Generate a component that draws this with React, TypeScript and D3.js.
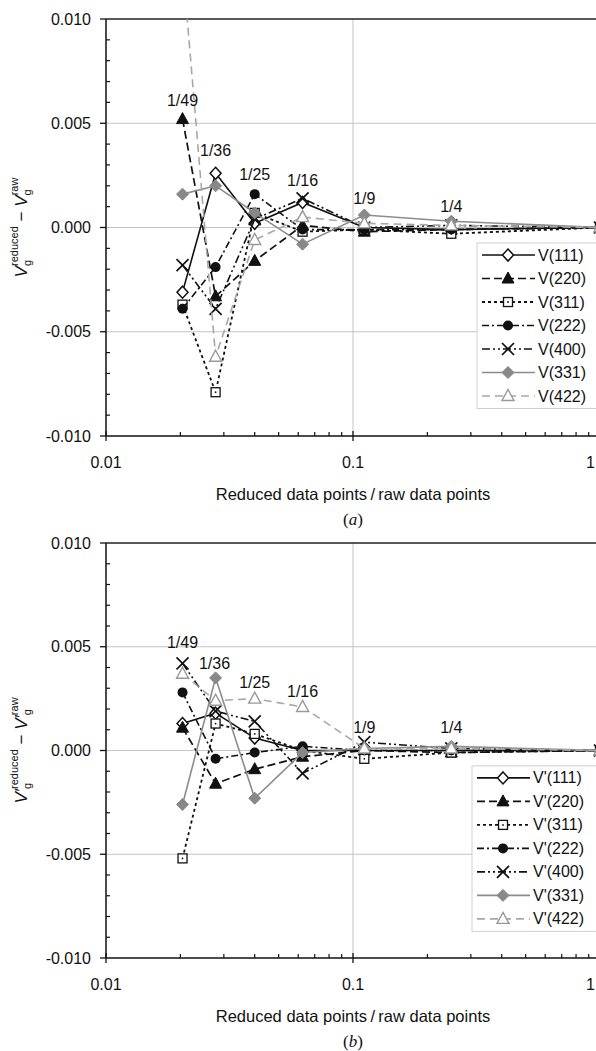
import React from "react";
import * as d3 from "d3";

const xValues = [1 / 49, 1 / 36, 1 / 25, 1 / 16, 1 / 9, 1 / 4, 1];
const xLabels = ["1/49", "1/36", "1/25", "1/16", "1/9", "1/4"];

const seriesNamesA = ["V(111)", "V(220)", "V(311)", "V(222)", "V(400)", "V(331)", "V(422)"];
const seriesNamesB = ["V'(111)", "V'(220)", "V'(311)", "V'(222)", "V'(400)", "V'(331)", "V'(422)"];

const a111 = [-0.0031, 0.0026, 0.0002, 0.0012, 0.0, -0.0001, 0];
const a220 = [0.0052, -0.0033, -0.0016, 0.0001, -0.0002, -0.0001, 0];
const a311 = [-0.0037, -0.0079, 0.0007, -0.0002, -0.0001, -0.0003, 0];
const a222 = [-0.0039, -0.0019, 0.0016, -0.0001, -0.0001, -0.0001, 0];
const a400 = [-0.0018, -0.0039, 0.0004, 0.0014, 0.0, 0.0001, 0];
const a331 = [0.0016, 0.002, 0.0007, -0.0008, 0.0006, 0.0003, 0];
const a422 = [0.0127, -0.0062, -0.0006, 0.0005, 0.0002, 0.0001, 0];

const b111 = [0.0013, 0.0018, 0.0006, 0.0, 0.0, 0.0, 0];
const b220 = [0.0011, -0.0016, -0.0009, -0.0003, 0.0, -0.0001, 0];
const b311 = [-0.0052, 0.0013, 0.0008, 0.0, -0.0004, -0.0001, 0];
const b222 = [0.0028, -0.0004, -0.0001, 0.0002, 0.0, 0.0, 0];
const b400 = [0.0042, 0.0019, 0.0014, -0.0011, 0.0004, 0.0001, 0];
const b331 = [-0.0026, 0.0035, -0.0023, -0.0001, 0.0001, 0.0002, 0];
const b422 = [0.0037, 0.0024, 0.0025, 0.0021, 0.0001, 0.0001, 0];

// annotation label positions (data units) for each panel
const annotYA = [0.0061, 0.0037, 0.00253, 0.00225, 0.00138, 0.001];
const annotXA = [1 / 49, 1 / 36, 1 / 25, 1 / 16, 1 / 9, 1 / 4];
const annotYB = [0.0052, 0.0042, 0.0033, 0.00286, 0.0011, 0.0011];
const annotXB = [1 / 49, 0.0275, 1 / 25, 1 / 16, 1 / 9, 1 / 4];

const yTicks = [0.01, 0.005, 0, -0.005, -0.01];
const xTicks = [0.01, 0.1, 1];
const xTickLabels = ["0.01", "0.1", "1"];

type Style = { dash: string; color: string; marker: string; width: number };
const styles: Style[] = [
  { dash: "", color: "#111", marker: "diamondOpen", width: 1.6 },
  { dash: "8,4", color: "#111", marker: "triangle", width: 1.7 },
  { dash: "3,3", color: "#111", marker: "square", width: 1.8 },
  { dash: "7,3,2,3", color: "#111", marker: "circle", width: 1.6 },
  { dash: "8,3,2,3,2,3", color: "#111", marker: "x", width: 1.6 },
  { dash: "", color: "#8c8c8c", marker: "diamondGray", width: 1.6 },
  { dash: "8,5", color: "#a8a8a8", marker: "triangleOpen", width: 1.6 },
];

function Marker({ type, x, y }: { type: string; x: number; y: number }) {
  switch (type) {
    case "diamondOpen":
      return <polygon points={`${x},${y - 6} ${x + 5.5},${y} ${x},${y + 6} ${x - 5.5},${y}`} fill="#fff" stroke="#111" strokeWidth={1.5} />;
    case "triangle":
      return <polygon points={`${x},${y - 6.5} ${x + 6},${y + 4.5} ${x - 6},${y + 4.5}`} fill="#111" stroke="#111" strokeWidth={1} />;
    case "square":
      return (
        <g>
          <rect x={x - 4.5} y={y - 4.5} width={9} height={9} fill="#fff" stroke="#111" strokeWidth={1.3} />
          <circle cx={x} cy={y} r={0.9} fill="#111" />
        </g>
      );
    case "circle":
      return <circle cx={x} cy={y} r={5} fill="#111" />;
    case "x":
      return (
        <g stroke="#111" strokeWidth={1.7}>
          <line x1={x - 6} y1={y - 6} x2={x + 6} y2={y + 6} />
          <line x1={x - 6} y1={y + 6} x2={x + 6} y2={y - 6} />
        </g>
      );
    case "diamondGray":
      return <polygon points={`${x},${y - 6} ${x + 6},${y} ${x},${y + 6} ${x - 6},${y}`} fill="#888" stroke="#888" strokeWidth={1} />;
    case "triangleOpen":
      return <polygon points={`${x},${y - 6.5} ${x + 6},${y + 4.5} ${x - 6},${y + 4.5}`} fill="#fff" stroke="#999" strokeWidth={1.4} />;
  }
  return null;
}

const FONT = "'Liberation Sans', Arial, Helvetica, sans-serif";

function Panel({
  id, top, bottom, series, names, annotX, annotY, prime, tag, legendLeft,
}: {
  id: string; top: number; bottom: number; series: number[][]; names: string[];
  annotX: number[]; annotY: number[]; prime: boolean; tag: string; legendLeft: number;
}) {
  const left = 106;
  const right = 600;
  const x = d3.scaleLog().domain([0.01, 1]).range([left, right]);
  const y = d3.scaleLinear().domain([-0.01, 0.01]).range([bottom, top]);
  const line = d3.line<number>().x((_, i) => x(xValues[i])).y((d) => y(d));
  const minorY = d3.range(-10, 11).map((v) => v / 1000).filter((v) => Math.round(v * 1000) % 5 !== 0);
  const minorX: number[] = [];
  [0.01, 0.1].forEach((dec) => { for (let k = 2; k <= 9; k++) minorX.push(dec * k); });
  const midY = (top + bottom) / 2;
  const legendTop = midY + (bottom - top) * 0.066;
  const rowH = 23.5;
  const Vp = prime ? "V\u2032" : "V";
  return (
    <g fontFamily={FONT}>
      <defs>
        <clipPath id={`clip-${id}`}>
          <rect x={left} y={top} width={right - left + 10} height={bottom - top} />
        </clipPath>
      </defs>
      {[0.005, 0, -0.005].map((t) => (
        <line key={t} x1={left} x2={right} y1={y(t)} y2={y(t)} stroke="#c4c4c4" strokeWidth={1} />
      ))}
      <line x1={x(0.1)} x2={x(0.1)} y1={top} y2={bottom} stroke="#c4c4c4" strokeWidth={1} />
      <line x1={left} x2={right} y1={top} y2={top} stroke="#222" strokeWidth={1.4} />
      <g clipPath={`url(#clip-${id})`}>
        {series.map((s, si) => (
          <g key={si}>
            <path d={line(s) || ""} fill="none" stroke={styles[si].color} strokeWidth={styles[si].width} strokeDasharray={styles[si].dash} />
            {s.map((v, i) => (
              <Marker key={i} type={styles[si].marker} x={x(xValues[i])} y={y(v)} />
            ))}
          </g>
        ))}
      </g>
      {annotX.map((ax, i) => (
        <text key={i} x={x(ax)} y={y(annotY[i])} fontSize={16} textAnchor="middle" dominantBaseline="central" fill="#111">
          {xLabels[i]}
        </text>
      ))}
      <line x1={left} x2={left} y1={top} y2={bottom} stroke="#111" strokeWidth={1.5} />
      <line x1={left} x2={right} y1={bottom} y2={bottom} stroke="#111" strokeWidth={1.5} />
      {yTicks.map((t) => (
        <g key={t}>
          <line x1={left - 6} x2={left} y1={y(t)} y2={y(t)} stroke="#111" strokeWidth={1.3} />
          <text x={91} y={y(t)} fontSize={16} textAnchor="end" dominantBaseline="central" fill="#111">
            {t.toFixed(3)}
          </text>
        </g>
      ))}
      {minorY.map((t) => (
        <line key={t} x1={left} x2={left + 4} y1={y(t)} y2={y(t)} stroke="#111" strokeWidth={1.2} />
      ))}
      {xTicks.map((t, i) => {
        const last = i === xTicks.length - 1;
        return (
          <g key={t}>
            <line x1={x(t)} x2={x(t)} y1={bottom - 5} y2={bottom + 5} stroke="#111" strokeWidth={1.3} />
            <text x={last ? 595 : x(t)} y={bottom + 26} fontSize={16} textAnchor={last ? "end" : "middle"} dominantBaseline="central" fill="#111">
              {xTickLabels[i]}
            </text>
          </g>
        );
      })}
      {minorX.map((t) => (
        <line key={t} x1={x(t)} x2={x(t)} y1={bottom - 4} y2={bottom} stroke="#111" strokeWidth={1.2} />
      ))}
      <text x={x(0.1)} y={bottom + 58} fontSize={16.5} textAnchor="middle" dominantBaseline="central" fill="#111">
        Reduced data points{"\u2009/\u2009"}raw data points
      </text>
      <text x={x(0.1)} y={bottom + 83} fontSize={17} textAnchor="middle" dominantBaseline="central" fill="#111" fontFamily="'Liberation Serif', 'Times New Roman', serif">
        (<tspan fontStyle="italic">{tag}</tspan>)
      </text>
      <text transform={`translate(27,${midY}) rotate(-90)`} fontSize={17} textAnchor="middle" fill="#111">
        <tspan fontStyle="italic">{Vp}</tspan>
        <tspan fontSize={11} dy={4}>g</tspan>
        <tspan fontSize={11} dx={-6} dy={-13}>reduced</tspan>
        <tspan dy={9}>{" \u2212 "}</tspan>
        <tspan fontStyle="italic">{Vp}</tspan>
        <tspan fontSize={11} dy={4}>g</tspan>
        <tspan fontSize={11} dx={-6} dy={-13}>raw</tspan>
      </text>
      <rect x={legendLeft} y={legendTop - 12} width={140} height={rowH * 7 + 1} fill="#fff" stroke="#cfcfcf" strokeWidth={1} />
      {names.map((n, i) => {
        const ly = legendTop + i * rowH;
        const st = styles[i];
        return (
          <g key={n}>
            <line x1={legendLeft + 5} x2={legendLeft + 58} y1={ly} y2={ly} stroke={st.color} strokeWidth={st.width} strokeDasharray={st.dash} />
            <Marker type={st.marker} x={legendLeft + 31} y={ly} />
            <text x={legendLeft + 61} y={ly} fontSize={16} dominantBaseline="central" fill="#111">
              {n}
            </text>
          </g>
        );
      })}
    </g>
  );
}

export default function App() {
  return (
    <svg width={596} height={1051} style={{ position: "absolute", left: 0, top: 0, background: "#fff" }}>
      <rect width={596} height={1051} fill="#fff" />
      <Panel id="a" top={19} bottom={436} series={[a111, a220, a311, a222, a400, a331, a422]} names={seriesNamesA}
        annotX={annotXA} annotY={annotYA} prime={false} tag="a" legendLeft={477} />
      <Panel id="b" top={543} bottom={958} series={[b111, b220, b311, b222, b400, b331, b422]} names={seriesNamesB}
        annotX={annotXB} annotY={annotYB} prime={true} tag="b" legendLeft={472} />
    </svg>
  );
}
